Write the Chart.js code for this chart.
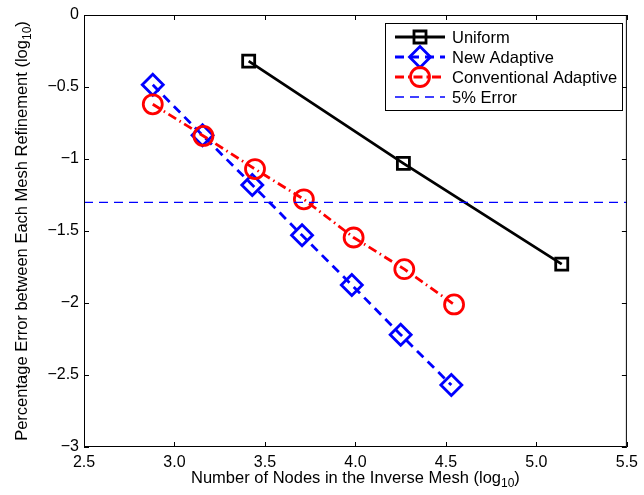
<!DOCTYPE html>
<html>
<head>
<meta charset="utf-8">
<script src="https://cdn.jsdelivr.net/npm/chart.js@4.4.1/dist/chart.umd.min.js"></script>
<style>
  body { margin: 0; background: #fff; }
  canvas { display: block; }
</style>
</head>
<body>
<canvas id="myChart" width="644" height="495"></canvas>
<script>
// values (log10 scale)
const uniformX = [3.41, 4.265, 5.14]
const uniformY = [-0.32, -1.03, -1.73]
const newX = [2.88, 3.155, 3.43, 3.705, 3.98, 4.25, 4.53]
const newY = [-0.485, -0.835, -1.18, -1.53, -1.875, -2.22, -2.57]
const convX = [2.88, 3.16, 3.445, 3.715, 3.99, 4.27, 4.545]
const convY = [-0.62, -0.84, -1.07, -1.28, -1.545, -1.765, -2.01]
const errorLevel = Math.log10(0.05)
const xRange = [2.5, 5.5]
const yRange = [-3, 0]
const seriesNames = ['Uniform', 'New Adaptive', 'Conventional Adaptive', '5% Error']

const FONT = '"Liberation Sans", Arial, Helvetica, sans-serif'

function pts(xs, ys) {
  return xs.map((x, i) => ({ x: x, y: ys[i] }))
}

const data = {
  datasets: [{
    label: seriesNames[0],
    data: pts(uniformX, uniformY),
    borderColor: '#000000',
    borderWidth: 2.8,
    pointStyle: 'rect',
    pointRadius: 8.5,
    pointBorderWidth: 2.8,
    pointBackgroundColor: 'rgba(0,0,0,0)',
    order: 4
  }, {
    label: seriesNames[1],
    data: pts(newX, newY),
    borderColor: '#0000ff',
    borderWidth: 2.8,
    borderDash: [9, 6],
    pointStyle: 'rectRot',
    pointRadius: 10.5,
    pointBorderWidth: 2.8,
    pointBackgroundColor: 'rgba(0,0,0,0)',
    order: 3
  }, {
    label: seriesNames[2],
    data: pts(convX, convY),
    borderColor: '#ff0000',
    borderWidth: 2.8,
    borderDash: [9, 4, 1.5, 4],
    pointStyle: 'circle',
    pointRadius: 9.5,
    pointBorderWidth: 2.8,
    pointBackgroundColor: 'rgba(0,0,0,0)',
    order: 2
  }, {
    label: seriesNames[3],
    data: pts(xRange, [errorLevel, errorLevel]),
    borderColor: '#0000ff',
    borderWidth: 1.3,
    borderDash: [9, 6],
    pointRadius: 0,
    order: 1
  }]
}

function drawLogLabel(ctx, text, x, y, align) {
  // "text (log" + subscript "10" + ")"
  const big = '16.5px ' + FONT
  const small = '12px ' + FONT
  const a = text + ' (log'
  ctx.font = big
  const wa = ctx.measureText(a).width
  const wc = ctx.measureText(')').width
  ctx.font = small
  const wb = ctx.measureText('10').width
  const total = wa + wb + wc
  let x0 = align === 'center' ? x - total / 2 : x
  ctx.textAlign = 'left'
  ctx.textBaseline = 'alphabetic'
  ctx.font = big
  ctx.fillText(a, x0, y)
  ctx.font = small
  ctx.fillText('10', x0 + wa, y + 4)
  ctx.font = big
  ctx.fillText(')', x0 + wa + wb, y)
}

const framePlugin = {
  id: 'frame',
  afterDraw(chart) {
    const ctx = chart.ctx
    const a = chart.chartArea
    const xs = chart.scales.x
    const ys = chart.scales.y
    ctx.save()
    // box + inward ticks
    ctx.strokeStyle = '#000'
    ctx.lineWidth = 1
    ctx.setLineDash([])
    ctx.strokeRect(a.left + 0.5, a.top + 0.5, a.right - a.left - 1, a.bottom - a.top - 1)
    ctx.beginPath()
    xs.ticks.forEach(t => {
      const px = Math.round(xs.getPixelForValue(t.value)) + 0.5
      ctx.moveTo(px, a.bottom); ctx.lineTo(px, a.bottom - 5)
      ctx.moveTo(px, a.top); ctx.lineTo(px, a.top + 5)
    })
    ys.ticks.forEach(t => {
      const py = Math.round(ys.getPixelForValue(t.value)) + 0.5
      ctx.moveTo(a.left, py); ctx.lineTo(a.left + 5, py)
      ctx.moveTo(a.right, py); ctx.lineTo(a.right - 5, py)
    })
    ctx.stroke()

    // axis titles
    ctx.fillStyle = '#000'
    drawLogLabel(ctx, 'Number of Nodes in the Inverse Mesh', (a.left + a.right) / 2, 483, 'center')
    ctx.save()
    ctx.translate(27, (a.top + a.bottom) / 2)
    ctx.rotate(-Math.PI / 2)
    drawLogLabel(ctx, 'Percentage Error between Each Mesh Refinement', 0, 0, 'center')
    ctx.restore()

    // legend
    const lx = 385, ly = 23, lw = 237, lh = 87
    ctx.fillStyle = '#fff'
    ctx.fillRect(lx, ly, lw, lh)
    ctx.strokeStyle = '#000'
    ctx.lineWidth = 1
    ctx.strokeRect(lx + 0.5, ly + 0.5, lw, lh)
    chart.data.datasets.forEach((ds, i) => {
      const y = 37 + i * 20
      ctx.strokeStyle = ds.borderColor
      ctx.lineWidth = ds.borderWidth
      ctx.setLineDash(ds.borderDash || [])
      ctx.beginPath()
      ctx.moveTo(395, y)
      ctx.lineTo(445, y)
      ctx.stroke()
      ctx.setLineDash([])
      if (ds.pointRadius > 0) {
        ctx.lineWidth = ds.pointBorderWidth
        ctx.fillStyle = 'rgba(0,0,0,0)'
        Chart.helpers.drawPoint(ctx, {
          pointStyle: ds.pointStyle,
          radius: ds.pointRadius,
          borderWidth: ds.pointBorderWidth,
          rotation: 0
        }, 420, y)
      }
      ctx.fillStyle = '#000'
      ctx.font = '16.5px ' + FONT
      ctx.textAlign = 'left'
      ctx.textBaseline = 'middle'
      ctx.fillText(ds.label, 452, y + 1)
    })
    ctx.restore()
  }
}

const config = {
  type: 'scatter',
  data,
  options: {
    responsive: false,
    animation: false,
    devicePixelRatio: 1,
    showLine: true,
    layout: { padding: { top: 15, right: 13, left: 0, bottom: 0 } },
    plugins: {
      legend: { display: false },
      tooltip: { enabled: false }
    },
    elements: { line: { tension: 0 } },
    scales: {
      x: {
        type: 'linear',
        min: xRange[0],
        max: xRange[1],
        ticks: {
          stepSize: 0.5,
          color: '#000',
          font: { family: FONT, size: 16 },
          padding: 6,
          maxRotation: 0
        },
        grid: { display: false, drawTicks: false },
        border: { display: false },
        afterFit(scale) { scale.height = 48 }
      },
      y: {
        type: 'linear',
        min: yRange[0],
        max: yRange[1],
        ticks: {
          stepSize: 0.5,
          color: '#000',
          font: { family: FONT, size: 16 },
          padding: 5,
          callback: v => String(v).replace('-', '\u2212')
        },
        grid: { display: false, drawTicks: false },
        border: { display: false },
        afterFit(scale) { scale.width = 84 }
      }
    }
  },
  plugins: [framePlugin]
}

const myChart = new Chart(document.querySelector('#myChart'), config)
</script>
</body>
</html>
